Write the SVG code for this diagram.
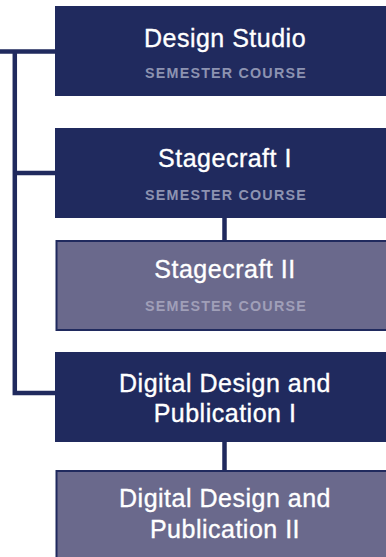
<svg xmlns="http://www.w3.org/2000/svg" width="386" height="557" viewBox="0 0 386 557">
<style>
.dark{fill:#202a5e}
.light{fill:#6a698c;stroke:#202a5e;stroke-width:2}
.t{font-family:"Liberation Sans",Arial,sans-serif;font-size:25px;fill:#ffffff;stroke:#ffffff;stroke-width:0.35px;text-anchor:middle;letter-spacing:0.5px}
.s{font-family:"Liberation Sans",Arial,sans-serif;font-size:14.3px;font-weight:bold;text-anchor:middle;letter-spacing:1.2px}
.sd{fill:#8d93b1}
.sl{fill:#a09fb8}
.c{fill:none;stroke:#202a5e;stroke-width:4.5}
</style>
<rect width="386" height="557" fill="#ffffff"/>
<g id="connectors">
<path class="c" d="M0 51.5H56M14.8 51.5V393H56"/>
<path class="c" d="M14.8 173H56"/>
<path class="c" d="M224.5 218V241"/>
<path class="c" d="M224.5 442V471"/>
</g>
<g id="design-studio">
<rect class="dark" x="55" y="6" width="340" height="90"/>
<text class="t" x="225" y="46.7">Design Studio</text>
<text class="s sd" x="226" y="78.3">SEMESTER COURSE</text>
</g>
<g id="stagecraft-1">
<rect class="dark" x="55" y="128" width="340" height="90"/>
<text class="t" x="225" y="166.7">Stagecraft I</text>
<text class="s sd" x="226" y="200">SEMESTER COURSE</text>
</g>
<g id="stagecraft-2">
<rect class="light" x="56.5" y="241" width="340" height="89"/>
<text class="t" x="225" y="278.3">Stagecraft II</text>
<text class="s sl" x="226" y="310.7">SEMESTER COURSE</text>
</g>
<g id="ddp-1">
<rect class="dark" x="55" y="352" width="340" height="90"/>
<text class="t" x="225" y="391.7">Digital Design and</text>
<text class="t" x="225" y="421.7">Publication I</text>
</g>
<g id="ddp-2">
<rect class="light" x="56.5" y="471" width="340" height="95"/>
<text class="t" x="225" y="506.7">Digital Design and</text>
<text class="t" x="225" y="538.3">Publication II</text>
</g>
</svg>
